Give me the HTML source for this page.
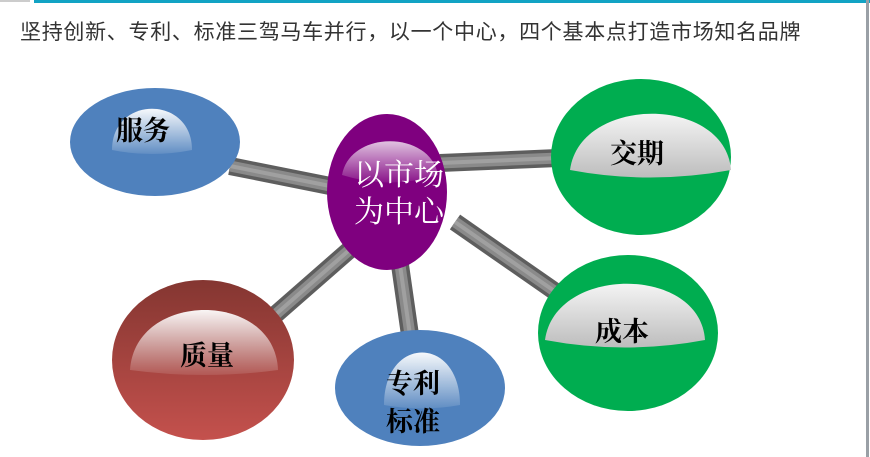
<!DOCTYPE html>
<html><head><meta charset="utf-8"><style>
html,body{margin:0;padding:0;background:#fff;}
body{width:870px;height:457px;overflow:hidden;position:relative;}
</style></head><body>
<svg width="870" height="457" viewBox="0 0 870 457" xmlns="http://www.w3.org/2000/svg" style="position:absolute;left:0;top:0">
<defs>
<linearGradient id="hl" x1="0" y1="0" x2="0" y2="1">
<stop offset="0" stop-color="#fff" stop-opacity="0.95"/><stop offset="1" stop-color="#fff" stop-opacity="0.1"/></linearGradient>
<linearGradient id="hlg" x1="0" y1="0" x2="0" y2="1">
<stop offset="0" stop-color="#f4f4f4"/><stop offset="1" stop-color="#bdbdbd"/></linearGradient>
<linearGradient id="red" x1="0" y1="0" x2="0" y2="1">
<stop offset="0" stop-color="#843631"/><stop offset="1" stop-color="#c4514d"/></linearGradient>
</defs>
<rect x="34" y="0" width="836" height="3" fill="#12a3c4"/>
<rect x="0" y="0" width="30" height="2" fill="#ccc"/>
<rect x="866" y="0" width="3" height="457" fill="#9aa0a6"/>
<text x="20" y="39" font-family="'Liberation Sans','Noto Sans CJK SC',sans-serif" font-size="21" letter-spacing="0.7" fill="#333">坚持创新、专利、标准三驾马车并行，以一个中心，四个基本点打造市场知名品牌</text>
<g stroke-linecap="butt" fill="none">
<g stroke="#5e5e5e" stroke-width="18">
<line x1="230" y1="166" x2="340" y2="188"/>
<line x1="440" y1="163" x2="558" y2="158"/>
<line x1="455" y1="222" x2="560" y2="295"/>
<line x1="275" y1="315" x2="355" y2="245"/>
<line x1="400" y1="265" x2="410" y2="335"/>
</g>
<g stroke="#8a8a8a" stroke-width="11">
<line x1="230" y1="166" x2="340" y2="188"/>
<line x1="440" y1="163" x2="558" y2="158"/>
<line x1="455" y1="222" x2="560" y2="295"/>
<line x1="275" y1="315" x2="355" y2="245"/>
<line x1="400" y1="265" x2="410" y2="335"/>
</g>
<g stroke="#a0a0a0" stroke-width="4">
<line x1="230" y1="166" x2="340" y2="188"/>
<line x1="440" y1="163" x2="558" y2="158"/>
<line x1="455" y1="222" x2="560" y2="295"/>
<line x1="275" y1="315" x2="355" y2="245"/>
<line x1="400" y1="265" x2="410" y2="335"/>
</g>
</g>
<ellipse cx="155" cy="142" rx="85" ry="54" fill="#4f81bd"/>
<path d="M112,150 C112,95 192,95 192,150 Q152,158 112,150Z" fill="url(#hl)"/>
<ellipse cx="641" cy="157" rx="90" ry="78" fill="#00ad50"/>
<path d="M570,170 C580,95 725,95 731,170 Q650,185 570,170Z" fill="url(#hlg)"/>
<ellipse cx="628" cy="333" rx="90" ry="78" fill="#00ad50"/>
<path d="M545,340 C555,265 700,265 705,340 Q625,355 545,340Z" fill="url(#hlg)"/>
<ellipse cx="203" cy="360" rx="91" ry="80" fill="url(#red)"/>
<path d="M130,370 C135,290 275,290 278,370 Q205,380 130,370Z" fill="url(#hl)"/>
<ellipse cx="420" cy="388" rx="85" ry="58" fill="#4f81bd"/>
<path d="M384,405 C384,335 460,335 460,405 Q422,412 384,405Z" fill="url(#hl)"/>
<ellipse cx="387" cy="192" rx="60" ry="78" fill="#7f007f"/>
<path d="M342,175 C350,130 430,130 438,175 Q390,190 342,175Z" fill="url(#hl)" opacity="0.8"/>
<g font-family="'Noto Serif CJK SC','Liberation Serif',serif" font-size="27" font-weight="bold" fill="#000" text-anchor="middle">
<text x="143" y="140">服务</text>
<text x="637" y="163">交期</text>
<text x="622" y="341">成本</text>
<text x="207" y="365">质量</text>
<text x="413" y="393">专利</text>
<text x="413" y="431">标准</text>
</g>
<g font-family="'Noto Serif CJK SC','Liberation Serif',serif" font-size="30" fill="#fff" text-anchor="middle">
<text x="399" y="185">以市场</text>
<text x="399" y="222">为中心</text>
</g>
</svg>
</body></html>
